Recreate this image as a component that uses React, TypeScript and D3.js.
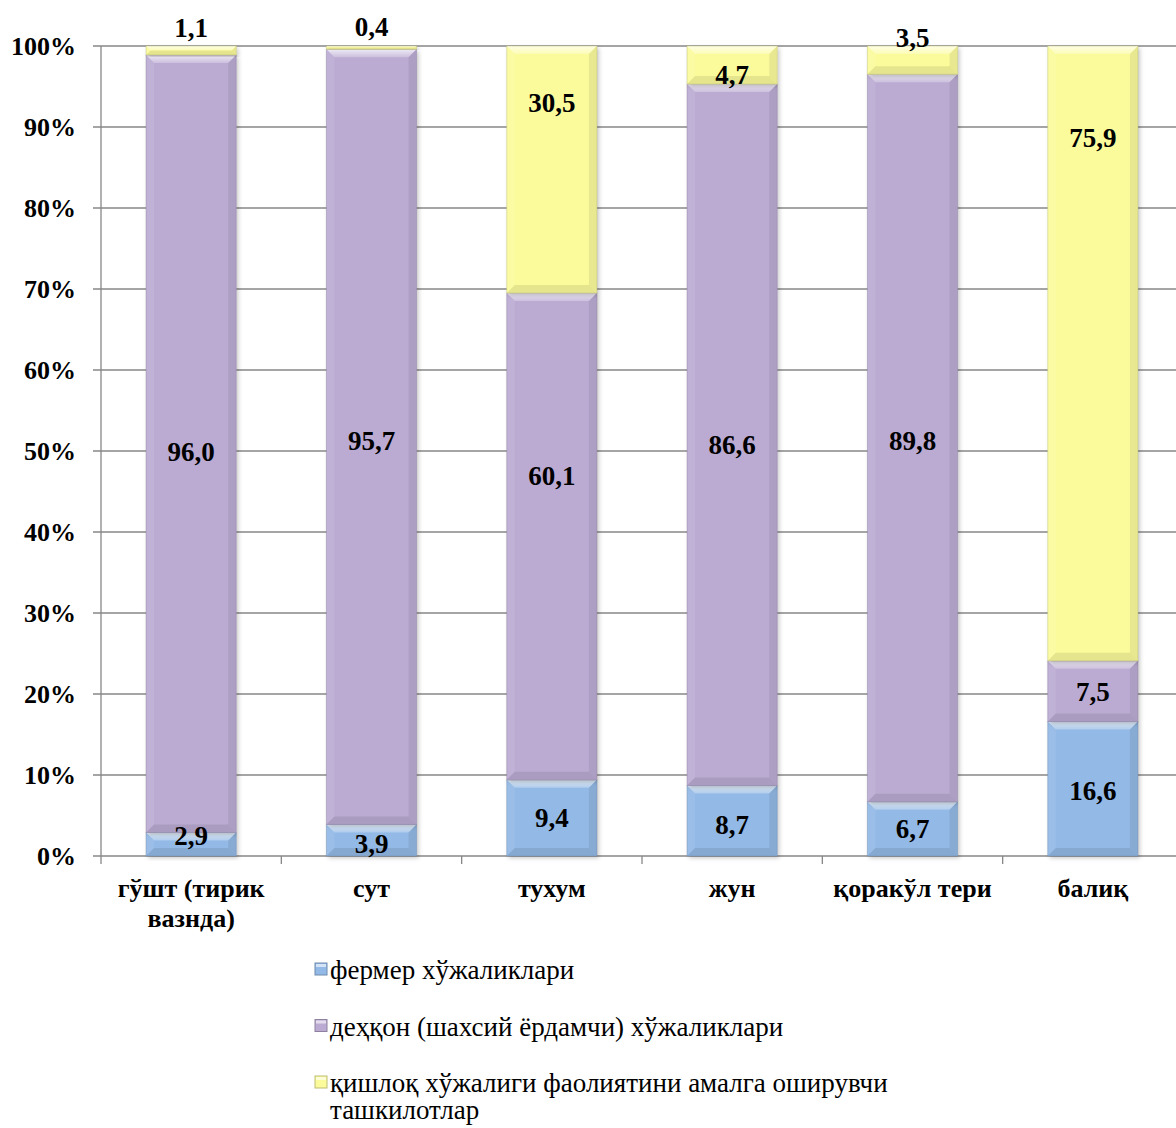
import { useEffect, useRef } from 'react';
import * as d3 from 'd3';

const categories = ['гўшт (тирик вазнда)', 'сут', 'тухум', 'жун', 'қоракўл тери', 'балиқ'];
const categoryLines = [['гўшт (тирик', 'вазнда)'], ['сут'], ['тухум'], ['жун'], ['қоракўл тери'], ['балиқ']];
const farmers = [2.9, 3.9, 9.4, 8.7, 6.7, 16.6];
const dehqon = [96.0, 95.7, 60.1, 86.6, 89.8, 7.5];
const organisations = [1.1, 0.4, 30.5, 4.7, 3.5, 75.9];
const seriesNames = [
  'фермер хўжаликлари',
  'деҳқон (шахсий ёрдамчи) хўжаликлари',
  'қишлоқ хўжалиги фаолиятини амалга оширувчи',
];
const legendSecondLine = 'ташкилотлар';
const yTicks = [0, 10, 20, 30, 40, 50, 60, 70, 80, 90, 100];

// label nudges (px) relative to segment centre, as placed in the original
const labelShift = [
  [-9, 3, 0, 4, 0, 2],
  [8, 4, -61, 10, 3, 0],
  [-23, -21, -67, 10, -23, -216],
];

const colors = ['#93b9e6', '#bbabd3', '#fbfb9c'];
const font = '"Liberation Serif", "Times New Roman", serif';

export default function App() {
  const ref = useRef<SVGSVGElement>(null);

  useEffect(() => {
    if (!ref.current) return;
    const W = 1176;
    const H = 1128;
    const m = { left: 101, right: -7, top: 46, bottom: 272 };
    const innerW = W - m.left - m.right;
    const innerH = H - m.top - m.bottom;

    const svg = d3.select(ref.current);
    svg.selectAll('*').remove();
    svg.attr('width', W).attr('height', H);

    const defs = svg.append('defs');
    const sh = defs.append('filter').attr('id', 'shadow').attr('x', '-20%').attr('y', '-20%').attr('width', '140%').attr('height', '140%');
    sh.append('feDropShadow').attr('dx', 2).attr('dy', 2).attr('stdDeviation', 2).attr('flood-color', '#000').attr('flood-opacity', 0.22);

    const g = svg.append('g').attr('transform', `translate(${m.left},${m.top})`);

    const x = d3.scaleBand<string>().domain(categories).range([0, innerW]).paddingInner(0.5).paddingOuter(0.25);
    const y = d3.scaleLinear().domain([0, 100]).range([innerH, 0]);

    // grid
    g.append('g')
      .selectAll('line')
      .data(yTicks)
      .join('line')
      .attr('x1', -8)
      .attr('x2', innerW)
      .attr('y1', (d) => y(d))
      .attr('y2', (d) => y(d))
      .attr('stroke', '#878787')
      .attr('stroke-width', 1.3);

    // y axis
    g.append('line').attr('x1', 0).attr('x2', 0).attr('y1', 0).attr('y2', innerH).attr('stroke', '#878787').attr('stroke-width', 1.3);
    g.append('g')
      .selectAll('text')
      .data(yTicks)
      .join('text')
      .attr('x', -25)
      .attr('y', (d) => y(d))
      .attr('dy', '0.35em')
      .attr('text-anchor', 'end')
      .attr('font-family', font)
      .attr('font-weight', 'bold')
      .attr('font-size', 26)
      .text((d) => `${d}%`);

    // x ticks at band boundaries
    const step = x.step();
    g.append('g')
      .selectAll('line')
      .data(d3.range(categories.length + 1))
      .join('line')
      .attr('x1', (i) => i * step)
      .attr('x2', (i) => i * step)
      .attr('y1', innerH)
      .attr('y2', innerH + 8)
      .attr('stroke', '#878787')
      .attr('stroke-width', 1.3);

    const stackInput = categories.map((c, i) => ({ cat: c, s0: farmers[i], s1: dehqon[i], s2: organisations[i] }));
    const stacked = d3.stack<any>().keys(['s0', 's1', 's2'])(stackInput);

    // bevel gradients
    colors.forEach((c, si) => {
      const gr = defs.append('linearGradient').attr('id', `top${si}`).attr('x1', 0).attr('y1', 0).attr('x2', 0).attr('y2', 1);
      gr.append('stop').attr('offset', '0%').attr('stop-color', d3.interpolateRgb(c, '#ffffff')(0.75));
      gr.append('stop').attr('offset', '100%').attr('stop-color', d3.interpolateRgb(c, '#ffffff')(0.25));
    });

    const bars = g.append('g');
    stacked.forEach((layer, si) => {
      const base = d3.color(colors[si])!;
      const darker = base.darker(0.8).formatHex();
      layer.forEach((d, ci) => {
        const x0 = x(categories[ci])!;
        const w = x.bandwidth();
        const yTop = y(d[1]);
        const h = y(d[0]) - y(d[1]);
        const seg = bars.append('g');
        seg.append('rect')
          .attr('x', x0)
          .attr('y', yTop)
          .attr('width', w)
          .attr('height', h)
          .attr('fill', colors[si])
          .attr('filter', 'url(#shadow)');
        const b = Math.min(8, h / 2);
        const x1 = x0 + w;
        const y1 = yTop + h;
        const poly = (pts: number[][], fill: string, op = 1) =>
          seg.append('polygon').attr('points', pts.map((p) => p.join(',')).join(' ')).attr('fill', fill).attr('opacity', op);
        poly([[x0, yTop], [x1, yTop], [x1 - b, yTop + b], [x0 + b, yTop + b]], `url(#top${si})`, 1);
        poly([[x0, yTop], [x0 + b, yTop + b], [x0 + b, y1 - b], [x0, y1]], '#ffffff', 0.08);
        poly([[x1, yTop], [x1, y1], [x1 - b, y1 - b], [x1 - b, yTop + b]], darker, 0.3);
        poly([[x0, y1], [x0 + b, y1 - b], [x1 - b, y1 - b], [x1, y1]], darker, 0.35);
        seg.append('rect')
          .attr('x', x0)
          .attr('y', yTop)
          .attr('width', w)
          .attr('height', h)
          .attr('fill', 'none')
          .attr('stroke', darker)
          .attr('stroke-opacity', 0.45)
          .attr('stroke-width', 1);
      });
    });

    // data labels
    const labels = g.append('g');
    stacked.forEach((layer, si) => {
      layer.forEach((d, ci) => {
        const v = d[1] - d[0];
        labels.append('text')
          .attr('x', x(categories[ci])! + x.bandwidth() / 2)
          .attr('y', (y(d[0]) + y(d[1])) / 2 + labelShift[si][ci])
          .attr('dy', '0.35em')
          .attr('text-anchor', 'middle')
          .attr('font-family', font)
          .attr('font-weight', 'bold')
          .attr('font-size', 27)
          .text(v.toFixed(1).replace('.', ','));
      });
    });

    // category labels
    const catG = g.append('g');
    categories.forEach((c, i) => {
      const cx = x(c)! + x.bandwidth() / 2;
      const t = catG.append('text')
        .attr('x', cx)
        .attr('y', innerH + 41)
        .attr('text-anchor', 'middle')
        .attr('font-family', font)
        .attr('font-weight', 'bold')
        .attr('font-size', 26);
      categoryLines[i].forEach((line, li) => {
        t.append('tspan').attr('x', cx).attr('dy', li === 0 ? 0 : 30).text(line);
      });
    });

    // legend
    const leg = svg.append('g').attr('transform', 'translate(315,970)');
    seriesNames.forEach((name, i) => {
      const row = leg.append('g').attr('transform', `translate(0,${i * 56.5})`);
      const base = d3.color(colors[i])!;
      row.append('rect').attr('x', 0).attr('y', -7).attr('width', 12).attr('height', 12).attr('fill', colors[i]).attr('stroke', base.darker(0.8).formatHex()).attr('stroke-width', 1);
      row.append('rect').attr('x', 1).attr('y', -6).attr('width', 10).attr('height', 3).attr('fill', '#fff').attr('opacity', 0.6);
      row.append('text')
        .attr('x', 15)
        .attr('y', 0)
        .attr('dy', '0.35em')
        .attr('font-family', font)
        .attr('font-size', 27)
        .text(name);
      if (i === 2) {
        row.append('text')
          .attr('x', 15)
          .attr('y', 27)
          .attr('dy', '0.35em')
          .attr('font-family', font)
          .attr('font-size', 27)
          .text(legendSecondLine);
      }
    });
  }, []);

  return <svg ref={ref} style={{ position: 'absolute', left: 0, top: 0, background: '#fff' }} />;
}
